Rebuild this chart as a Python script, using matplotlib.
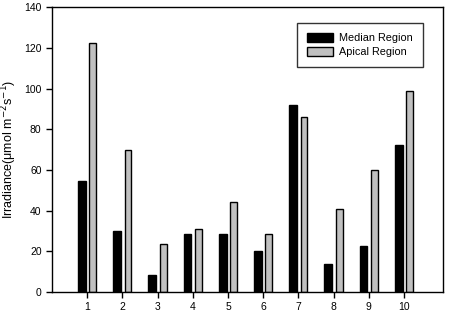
import numpy as np
import matplotlib
matplotlib.use('Agg')
from matplotlib import pyplot as plt

plt.rcParams['font.family'] = ['Liberation Sans', 'DejaVu Sans']

sites = [1, 2, 3, 4, 5, 6, 7, 8, 9, 10]
median = [54.5, 30, 8.5, 28.5, 28.5, 20, 92, 14, 22.5, 72]
apical = [122.3, 69.6, 23.5, 31, 44, 28.5, 86, 41, 60, 99]

fig = plt.figure(figsize=(4.5, 3.23), dpi=100)
ax = fig.add_axes([0.1156, 0.096, 0.868, 0.882])

x = np.array(sites)
ax.bar(x - 0.15, median, width=0.22, color='black', edgecolor='black', linewidth=1, label='Median Region')
ax.bar(x + 0.16, apical, width=0.19, color='#c0c0c0', edgecolor='black', linewidth=1, label='Apical Region')

ax.set_xlim(0, 11.1)
ax.set_ylim(0, 140)
ax.set_xticks(sites)
ax.set_yticks(range(0, 141, 20))
ax.tick_params(direction='out', length=4, width=1, labelsize=7.5, top=False, right=False)
for s in ax.spines.values():
    s.set_linewidth(1)
ax.set_ylabel('Irradiance(μmol m$^{-2}$s$^{-1}$)', fontsize=9, labelpad=4)

leg = ax.legend(loc='upper right', bbox_to_anchor=(0.949, 0.944), borderaxespad=0,
                fontsize=7.8, frameon=True, fancybox=False, edgecolor='black',
                handlelength=2.4, handleheight=0.9, borderpad=0.9, labelspacing=0.35,
                handletextpad=0.6)
leg.get_frame().set_linewidth(1)

fig.savefig('out.png', dpi=100)
